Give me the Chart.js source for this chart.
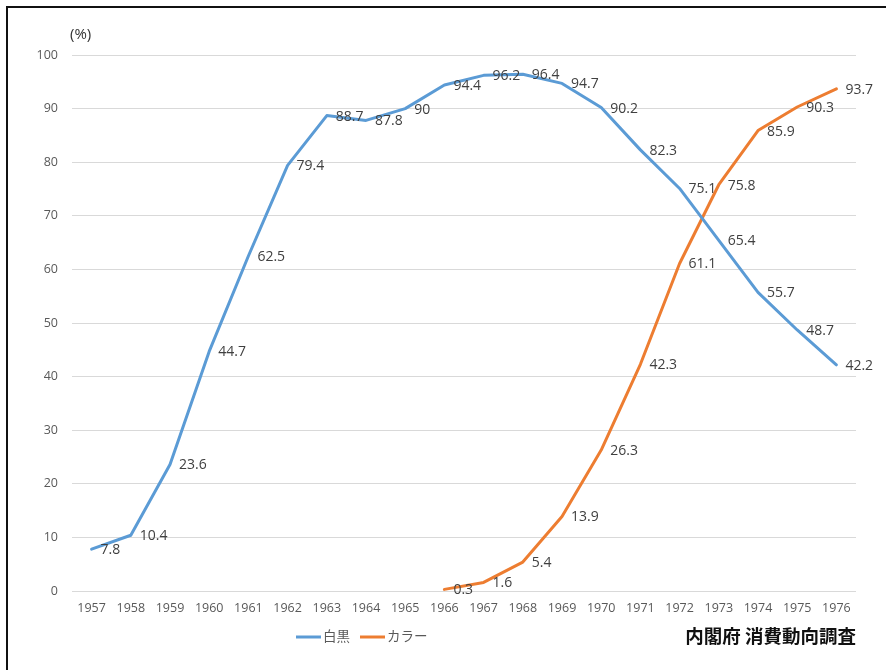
<!DOCTYPE html>
<html lang="ja">
<head>
<meta charset="utf-8">
<title>白黒・カラーテレビ普及率</title>
<script src="https://cdn.jsdelivr.net/npm/chart.js@4/dist/chart.umd.min.js"></script>
<style>
  html, body { margin: 0; padding: 0; background: #fff; overflow: hidden; }
  #wrap { position: relative; width: 886px; height: 670px; }
  #frame {
    position: absolute; left: 6px; top: 6px;
    width: 920px; height: 720px;
    border: 2px solid #111; pointer-events: none;
  }
</style>
</head>
<body>
<div id="wrap">
  <canvas id="tvChart" width="886" height="670"></canvas>
  <div id="frame"></div>
</div>
<script>
const years = ['1957', '1958', '1959', '1960', '1961', '1962', '1963', '1964', '1965', '1966',
               '1967', '1968', '1969', '1970', '1971', '1972', '1973', '1974', '1975', '1976'];

const monochrome = [7.8, 10.4, 23.6, 44.7, 62.5, 79.4, 88.7, 87.8, 90, 94.4,
                    96.2, 96.4, 94.7, 90.2, 82.3, 75.1, 65.4, 55.7, 48.7, 42.2];

const colour = [null, null, null, null, null, null, null, null, null, 0.3,
                1.6, 5.4, 13.9, 26.3, 42.3, 61.1, 75.8, 85.9, 90.3, 93.7];

const yTicks = [0, 10, 20, 30, 40, 50, 60, 70, 80, 90, 100];

const seriesNames = ['白黒', 'カラー'];
const sourceNote = '内閣府 消費動向調査';
const unitLabel = '(%)';

const BLUE = '#5b9bd5';
const ORANGE = '#ed7d31';
const FONT = '"Open Sans", "Noto Sans CJK JP", sans-serif';

// value labels to the right of each point
const valueLabels = {
  id: 'valueLabels',
  afterDatasetsDraw(chart) {
    const ctx = chart.ctx;
    ctx.save();
    ctx.font = '14px ' + FONT;
    ctx.fillStyle = '#404040';
    ctx.textAlign = 'left';
    ctx.textBaseline = 'middle';
    chart.data.datasets.forEach((ds, i) => {
      const meta = chart.getDatasetMeta(i);
      meta.data.forEach((pt, j) => {
        const v = ds.data[j];
        if (v === null || v === undefined) return;
        ctx.fillText(String(v), pt.x + 9, pt.y + 1);
      });
    });
    ctx.restore();
  }
};

// unit caption, legend and source note
const extras = {
  id: 'extras',
  afterDraw(chart) {
    const ctx = chart.ctx;
    const area = chart.chartArea;
    ctx.save();

    ctx.font = '15px ' + FONT;
    ctx.fillStyle = '#333';
    ctx.textAlign = 'left';
    ctx.textBaseline = 'middle';
    ctx.fillText(unitLabel, area.left - 2, 35);

    // legend
    let x = area.left + 224;
    const y = 637;
    ctx.font = '13.5px ' + FONT;
    ctx.lineWidth = 3;
    chart.data.datasets.forEach((ds) => {
      ctx.strokeStyle = ds.borderColor;
      ctx.beginPath();
      ctx.moveTo(x, y);
      ctx.lineTo(x + 25, y);
      ctx.stroke();
      ctx.fillStyle = '#595959';
      ctx.fillText(ds.label, x + 27, y);
      x += 27 + ctx.measureText(ds.label).width + 10;
    });

    // source
    ctx.font = 'bold 18.5px "Noto Sans CJK JP", sans-serif';
    ctx.fillStyle = '#111';
    ctx.textAlign = 'right';
    ctx.fillText(sourceNote, area.right, 636);
    ctx.restore();
  }
};

new Chart(document.getElementById('tvChart'), {
  type: 'line',
  data: {
    labels: years,
    datasets: [
      {
        label: seriesNames[0],
        data: monochrome,
        borderColor: BLUE,
        backgroundColor: BLUE,
        borderWidth: 3,
        pointRadius: 0,
        tension: 0,
        borderCapStyle: 'round',
        borderJoinStyle: 'round'
      },
      {
        label: seriesNames[1],
        data: colour,
        borderColor: ORANGE,
        backgroundColor: ORANGE,
        borderWidth: 3,
        pointRadius: 0,
        tension: 0,
        borderCapStyle: 'round',
        borderJoinStyle: 'round'
      }
    ]
  },
  options: {
    responsive: false,
    animation: false,
    layout: { padding: { top: 55, right: 30, bottom: 49, left: 0 } },
    plugins: {
      legend: { display: false },
      tooltip: { enabled: false }
    },
    scales: {
      x: {
        offset: true,
        grid: { display: false, drawTicks: false },
        border: { display: false },
        ticks: {
          color: '#595959',
          font: { family: FONT, size: 12.5 },
          padding: 10,
          maxRotation: 0,
          autoSkip: false
        },
        afterFit(scale) { scale.height = 30; }
      },
      y: {
        min: 0,
        max: 100,
        afterBuildTicks(scale) { scale.ticks = yTicks.map(v => ({ value: v })); },
        grid: { color: '#d9d9d9', lineWidth: 1, drawTicks: false },
        border: { display: false },
        ticks: {
          color: '#595959',
          font: { family: FONT, size: 12.5 },
          padding: 14
        },
        afterFit(scale) { scale.width = 72; }
      }
    }
  },
  plugins: [valueLabels, extras]
});
</script>
</body>
</html>
